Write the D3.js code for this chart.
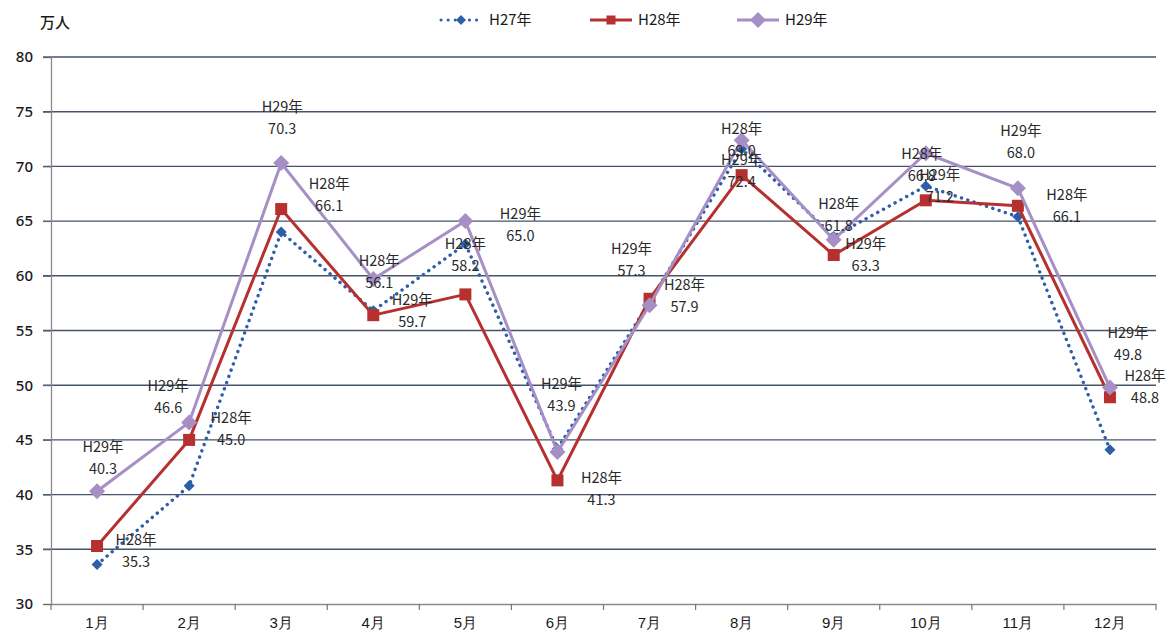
<!DOCTYPE html>
<html><head><meta charset="utf-8">
<script src="https://cdn.jsdelivr.net/npm/d3@7"></script>
<style>
body{margin:0;background:#fff;}
svg{font-family:"Noto Sans CJK JP","Noto Sans",sans-serif;}
</style></head>
<body>
<svg id="c" width="1176" height="637"></svg>
<script>
const months = ["1月","2月","3月","4月","5月","6月","7月","8月","9月","10月","11月","12月"];
const seriesNames = ["H27年","H28年","H29年"];
const h27 = [33.6, 40.8, 64.0, 56.8, 62.9, 44.2, 57.6, 71.6, 63.6, 68.2, 65.4, 44.1];
const h28 = [35.3, 45.0, 66.1, 56.4, 58.3, 41.3, 57.9, 69.2, 61.9, 66.9, 66.4, 48.9];
const h29 = [40.3, 46.6, 70.3, 59.7, 65.0, 43.9, 57.3, 72.4, 63.3, 71.2, 68.0, 49.8];
// value texts shown by the data labels
const h28Labels = ["35.3","45.0","66.1","56.1","58.2","41.3","57.9","69.0","61.8","66.8","66.1","48.8"];
const h29Labels = ["40.3","46.6","70.3","59.7","65.0","43.9","57.3","72.4","63.3","71.2","68.0","49.8"];
const yTicks = [30,35,40,45,50,55,60,65,70,75,80];
const unitLabel = "万人";
// data labels: [series index, month index]
const labelPoints = [
  [2,0],[1,0],[2,1],[1,1],[2,2],[1,2],[1,3],[2,3],[1,4],[2,4],[2,5],[1,5],
  [2,6],[1,6],[1,7],[2,7],[1,8],[2,8],[1,9],[2,9],[2,10],[1,10],[2,11],[1,11]
];
// pixel offsets of each label from its point (layout only)
const labelOffsets = [
  [6,-44],[39,-6],[-21,-36],[42,-22],[1,-56],[48,-25],[6,-54],[39,21],[0,-50],[55,-7],[4,-68],[44,-2],
  [-18,-56],[35,-14],[0,-46],[0,20],[5,-51],[32,4],[-4,-46],[14,22],[3,-57],[49,-11],[18,-54],[35,-21]
];

(function(){
const svg = d3.select("#c");
const pLeft = 51, pRight = 1156, pTop = 57, pBottom = 604;
const x = d3.scaleBand().domain(months).range([pLeft, pRight]);
const y = d3.scaleLinear().domain([30, 80]).range([pBottom, pTop]);
const cx = m => x(m) + x.bandwidth()/2;

// gridlines
svg.append("g").selectAll("line").data(yTicks.filter(t => t > 30)).join("line")
  .attr("x1", pLeft - 8).attr("x2", pRight).attr("y1", d => y(d)).attr("y2", d => y(d))
  .attr("stroke", "#44546a").attr("stroke-width", 1.4);

// y axis
const yAxis = svg.append("g").attr("transform", `translate(${pLeft},0)`)
  .call(d3.axisLeft(y).tickValues(yTicks).tickSize(8).tickPadding(10));
yAxis.select(".domain").attr("stroke", "#8a8a8a").attr("stroke-width", 1.3);
yAxis.selectAll(".tick line").attr("stroke", "#666");
yAxis.selectAll("text").attr("font-size", 15).attr("fill", "#1a1a1a").attr("font-weight", 500)
  .attr("font-family", "'Noto Sans','Liberation Sans',sans-serif");

// x axis
const xAxis = svg.append("g").attr("transform", `translate(0,${pBottom})`)
  .call(d3.axisBottom(x).tickSize(0).tickPadding(13));
xAxis.select(".domain").attr("stroke", "#8a8a8a").attr("stroke-width", 1.3);
xAxis.selectAll("text").attr("font-size", 15).attr("fill", "#1a1a1a").attr("font-weight", 500);
// boundary tick marks
svg.append("g").selectAll("line").data(d3.range(months.length + 1)).join("line")
  .attr("x1", i => pLeft + i * x.step()).attr("x2", i => pLeft + i * x.step())
  .attr("y1", pBottom).attr("y2", pBottom + 6).attr("stroke", "#777").attr("stroke-width", 1.2);

svg.append("text").attr("x", 40).attr("y", 28).attr("font-size", 15).attr("font-weight", 500)
  .attr("fill", "#1a1a1a").text(unitLabel);

const line = d3.line().x((d, i) => cx(months[i])).y(d => y(d));
const colors = ["#2d5ea8", "#b5302e", "#a58fc5"];
const seriesData = [h27, h28, h29];
const labelTexts = [null, h28Labels, h29Labels];

function diamond(g, px, py, r, fill) {
  g.append("path").attr("d", `M${px},${py-r}L${px+r},${py}L${px},${py+r}L${px-r},${py}Z`).attr("fill", fill);
}
function square(g, px, py, s, fill) {
  g.append("rect").attr("x", px - s/2).attr("y", py - s/2).attr("width", s).attr("height", s).attr("fill", fill);
}

// H27 dotted
svg.append("path").datum(h27).attr("d", line).attr("fill", "none").attr("stroke", colors[0])
  .attr("stroke-width", 3.4).attr("stroke-dasharray", "0.1 6.5").attr("stroke-linecap", "round");
const g27 = svg.append("g");
h27.forEach((v, i) => diamond(g27, cx(months[i]), y(v), 5.5, colors[0]));

// H28
svg.append("path").datum(h28).attr("d", line).attr("fill", "none").attr("stroke", colors[1]).attr("stroke-width", 3);
const g28 = svg.append("g");
h28.forEach((v, i) => square(g28, cx(months[i]), y(v), 12, colors[1]));

// H29
svg.append("path").datum(h29).attr("d", line).attr("fill", "none").attr("stroke", colors[2]).attr("stroke-width", 3);
const g29 = svg.append("g");
h29.forEach((v, i) => diamond(g29, cx(months[i]), y(v), 8, colors[2]));

// data labels
const lg = svg.append("g").attr("font-size", 14.5).attr("fill", "#2a2a2a").attr("text-anchor", "middle");
labelPoints.forEach(([s, m], k) => {
  const v = seriesData[s][m];
  const px = cx(months[m]) + labelOffsets[k][0];
  const py = y(v) + labelOffsets[k][1];
  lg.append("text").attr("x", px).attr("y", py).attr("dy", "0.35em").text(seriesNames[s]);
  lg.append("text").attr("x", px).attr("y", py + 22).attr("dy", "0.35em").text(labelTexts[s][m]);
});

// legend
const legend = svg.append("g").attr("font-size", 15).attr("fill", "#1a1a1a");
const legX = [441, 590, 737];
seriesNames.forEach((n, i) => {
  const lx = legX[i], ly = 20;
  const l = legend.append("line").attr("x1", lx).attr("x2", lx + 42).attr("y1", ly).attr("y2", ly)
    .attr("stroke", colors[i]).attr("stroke-width", 3);
  if (i === 0) l.attr("stroke-dasharray", "0.1 7").attr("stroke-linecap", "round");
  if (i === 0) diamond(legend, lx + 20, ly, 5, colors[0]);
  if (i === 1) square(legend, lx + 21, ly, 9, colors[1]);
  if (i === 2) diamond(legend, lx + 21, ly, 8, colors[2]);
  legend.append("text").attr("x", lx + 48).attr("y", ly).attr("dy", "0.35em").text(n);
});
})();
</script>
</body></html>
